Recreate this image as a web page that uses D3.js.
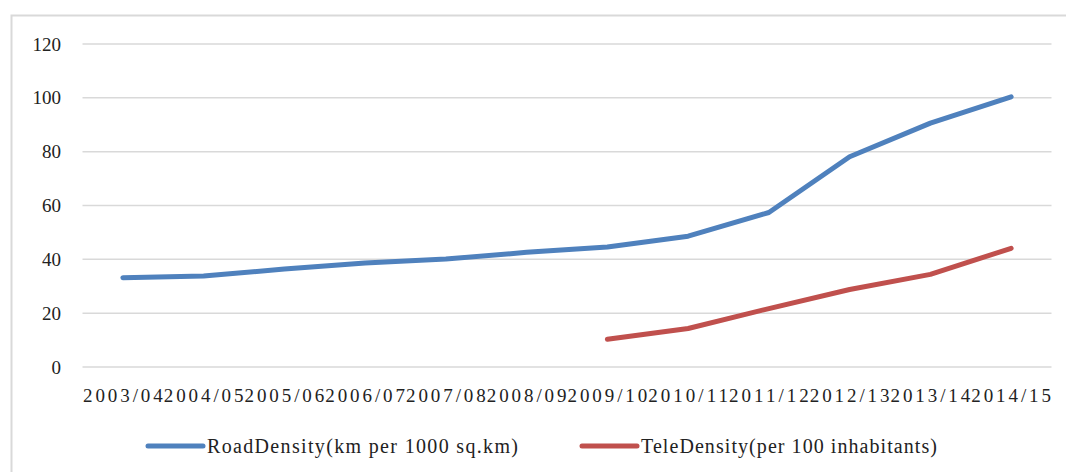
<!DOCTYPE html>
<html>
<head>
<meta charset="utf-8">
<script src="https://cdn.jsdelivr.net/npm/d3@7"></script>
<style>
  html, body { margin: 0; padding: 0; background: #fff; }
  svg { display: block; }
  svg text { font-family: 'Times New Roman', 'Liberation Serif', Tinos, 'DejaVu Serif', serif; fill: #222; }
</style>
</head>
<body>
<svg id="chart" width="1066" height="472"></svg>
<script>
// Fiscal years on the category axis
const years = ["2003/04", "2004/05", "2005/06", "2006/07", "2007/08", "2008/09",
               "2009/10", "2010/11", "2011/12", "2012/13", "2013/14", "2014/15"];

// Road density, km per 1000 sq.km
const roadDensity = [33.2, 33.8, 36.4, 38.6, 40.1, 42.6, 44.6, 48.6, 57.4, 78.1, 90.6, 100.4];

// Tele density, per 100 inhabitants (no data before 2009/10)
const teleDensity = [null, null, null, null, null, null, 10.3, 14.3, 21.7, 28.8, 34.4, 44.1];

const yTicks = [0, 20, 40, 60, 80, 100, 120];

const seriesNames = ["RoadDensity(km per 1000 sq.km)", "TeleDensity(per 100 inhabitants)"];
const seriesColors = ["#4f81bd", "#c0504d"];

const serif = "'Times New Roman', 'Liberation Serif', Tinos, 'DejaVu Serif', serif";

const svg = d3.select("#chart");

// Outer chart frame
svg.append("rect")
  .attr("x", 11.5).attr("y", 15.5)
  .attr("width", 1070).attr("height", 470)
  .attr("fill", "none")
  .attr("stroke", "#d9d9d9")
  .attr("stroke-width", 2);

const plotLeft = 82.5, plotRight = 1051.5, plotTop = 44, plotBottom = 367;

const x = d3.scaleBand().domain(years).range([plotLeft, plotRight]);
const y = d3.scaleLinear().domain([0, 120]).range([plotBottom, plotTop]);

// Horizontal gridlines
svg.append("g")
  .selectAll("line")
  .data(yTicks)
  .join("line")
  .attr("x1", plotLeft).attr("x2", plotRight)
  .attr("y1", d => y(d)).attr("y2", d => y(d))
  .attr("stroke", "#d9d9d9")
  .attr("stroke-width", 1.5);

// Y axis labels
const yAxis = d3.axisLeft(y).tickValues(yTicks).tickSize(0).tickPadding(0);
const gy = svg.append("g").attr("transform", "translate(61,0)").call(yAxis);
gy.attr("font-family", null);
gy.select(".domain").remove();
gy.selectAll("text")
  .style("font-family", serif)
  .style("font-size", "19px")
  .attr("fill", "#222")
  .attr("dy", "0.32em");

// X axis labels
const xAxis = d3.axisBottom(x).tickSize(0).tickPadding(0);
const gx = svg.append("g").attr("transform", `translate(0,${plotBottom})`).call(xAxis);
gx.attr("font-family", null);
gx.select(".domain").remove();
gx.selectAll("text")
  .style("font-family", serif)
  .style("font-size", "19px")
  .attr("fill", "#222")
  .attr("y", 35)
  .attr("dy", 0)
  .attr("textLength", x.bandwidth() - 1)
  .attr("lengthAdjust", "spacing");

// Series lines
const line = d3.line()
  .defined(d => d != null)
  .x((d, i) => x(years[i]) + x.bandwidth() / 2)
  .y(d => y(d));

[roadDensity, teleDensity].forEach((vals, k) => {
  svg.append("path")
    .datum(vals)
    .attr("d", line)
    .attr("fill", "none")
    .attr("stroke", seriesColors[k])
    .attr("stroke-width", 5)
    .attr("stroke-linecap", "round")
    .attr("stroke-linejoin", "round");
});

// Legend
const legendX = [148, 582];
const legendTextWidth = [311, 296];
const legend = svg.append("g");
seriesNames.forEach((name, k) => {
  const g = legend.append("g").attr("transform", `translate(${legendX[k]},446)`);
  g.append("line")
    .attr("x1", 0).attr("x2", 55)
    .attr("y1", 0).attr("y2", 0)
    .attr("stroke", seriesColors[k])
    .attr("stroke-width", 5)
    .attr("stroke-linecap", "round");
  g.append("text")
    .attr("x", 59)
    .attr("y", 7)
    .style("font-family", serif)
    .style("font-size", "20px")
    .attr("textLength", legendTextWidth[k])
    .attr("lengthAdjust", "spacing")
    .text(name);
});
</script>
</body>
</html>
